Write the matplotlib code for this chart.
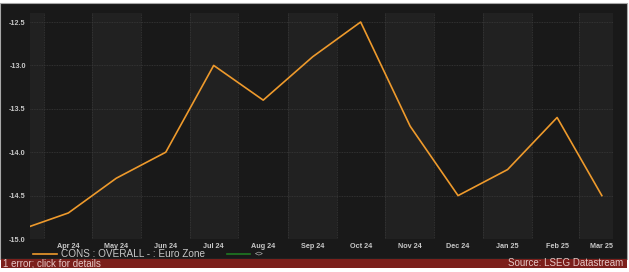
import datetime as dt

import matplotlib

matplotlib.use("Agg")
import matplotlib.pyplot as plt
import matplotlib.dates as mdates
import matplotlib.patches as mpatches

months = [dt.date(2024, m, 1) for m in range(3, 13)] + [dt.date(2025, m, 1) for m in range(1, 4)]
values = [-14.9, -14.7, -14.3, -14.0, -13.0, -13.4, -12.9, -12.5, -13.7, -14.5, -14.2, -13.6, -14.5]
tick_labels = ["Mar 24", "Apr 24", "May 24", "Jun 24", "Jul 24", "Aug 24", "Sep 24",
               "Oct 24", "Nov 24", "Dec 24", "Jan 25", "Feb 25", "Mar 25"]
y_ticks = [-15.0, -14.5, -14.0, -13.5, -13.0, -12.5]
series_name = "CONS : OVERALL - : Euro Zone"

W, H = 629, 272
BG = "#191919"
BAND = "#212121"
GRID = "#3a3a3a"
LINE = "#ee9a2c"
TXT = "#c8c8c8"

plt.rcParams["font.family"] = ["Liberation Sans", "DejaVu Sans"]

fig = plt.figure(figsize=(W / 100, H / 100), dpi=100, facecolor="white")


# pixel coords -> figure fraction
def fx(px):
    return px / W


def fy(py):
    return 1 - py / H


# dark frame + bottom status bar
fig.patches.append(mpatches.Rectangle((fx(0), fy(259)), fx(627), 256 / H, transform=fig.transFigure,
                                      facecolor=BG, edgecolor="#a8a8a8", lw=0.8, zorder=-2))
fig.patches.append(mpatches.Rectangle((fx(1), fy(268)), fx(626), 9 / H, transform=fig.transFigure,
                                      facecolor="#7b1f1b", edgecolor="none", zorder=-1))
fig.text(fx(3), fy(263.5), "1 error; click for details", color="#e6c8c6", fontsize=7.0, va="center", ha="left")
fig.text(fx(623), fy(263.5), "Source: LSEG Datastream", color="#e6c8c6", fontsize=7.0, va="center", ha="right")

ax = fig.add_axes([fx(30), fy(239), fx(583), 226 / H])
ax.set_zorder(2)
ax.set_facecolor(BG)
for s in ax.spines.values():
    s.set_visible(False)

x0 = mdates.date2num(dt.date(2024, 3, 8))
x1 = mdates.date2num(dt.date(2025, 3, 8))
xs = mdates.date2num(months)

# alternating month bands, split at midpoints between month starts
edges = [x0] + [(a + b) / 2 for a, b in zip(xs[:-1], xs[1:])] + [x1]
for i in range(len(edges) - 1):
    if i % 2 == 0:
        ax.axvspan(edges[i], edges[i + 1], color=BAND, lw=0, zorder=0)
for e in edges[1:-1]:
    ax.axvline(e, color=GRID, lw=0.6, ls=(0, (1, 1)), zorder=1)
for y in y_ticks:
    ax.axhline(y, color=GRID, lw=0.6, ls=(0, (1, 1)), zorder=1)

ax.plot(xs, values, color=LINE, lw=1.2, zorder=3)
ax.set_xlim(x0, x1)
ax.set_ylim(-15.0, -12.396)

ax.set_xticks(xs[1:])
ax.set_xticklabels(tick_labels[1:])
ax.set_yticks(y_ticks)
ax.set_yticklabels([f"{v:.1f}" for v in y_ticks])
ax.tick_params(length=0, colors=TXT, labelsize=5.2, pad=3)
for lab in ax.get_xticklabels() + ax.get_yticklabels():
    lab.set_fontweight("bold")

# legend row
fig.add_artist(plt.Line2D([fx(33), fx(57)], [fy(254), fy(254)], color=LINE, lw=1.2))
fig.text(fx(61), fy(254), series_name, color=TXT, fontsize=7.2, va="center", ha="left")
fig.add_artist(plt.Line2D([fx(227), fx(250)], [fy(254), fy(254)], color="#1f7a22", lw=1.2))
fig.text(fx(255), fy(254), "<>", color=TXT, fontsize=5.5, va="center", ha="left")

fig.savefig("out.png", dpi=100, facecolor="white")
